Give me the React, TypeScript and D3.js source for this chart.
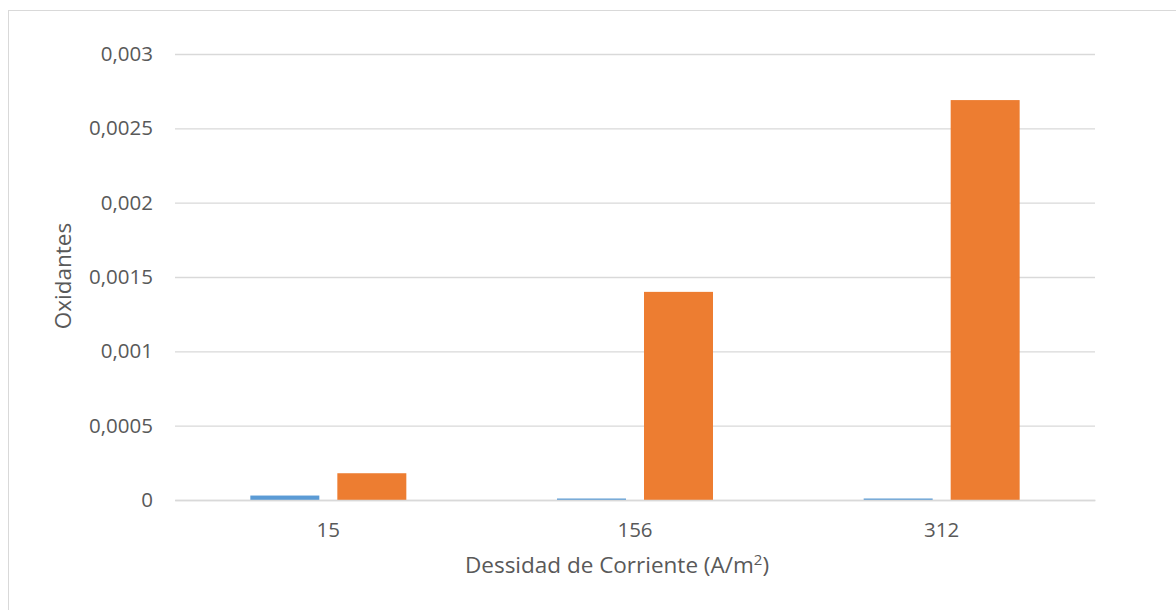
import React, { useEffect, useRef } from "react";
import * as d3 from "d3";

const categories = ["15", "156", "312"];
const seriesNames = ["Serie1", "Serie2"];
const serie1 = [0.00003, 0.00001, 0.00001];
const serie2 = [0.00018, 0.0014, 0.00269];
const yTicks = [0, 0.0005, 0.001, 0.0015, 0.002, 0.0025, 0.003];

const App = () => {
  const svgRef = useRef<SVGSVGElement>(null);

  useEffect(() => {
    const width = 1176;
    const height = 610;
    const left = 175;
    const right = 1095;
    const top = 54;
    const bottom = 500;
    const textColor = "#595959";
    const gridColor = "#D9D9D9";
    const colors = ["#5B9BD5", "#ED7D31"];
    const font = "'Open Sans', sans-serif";

    const svg = d3
      .select(svgRef.current)
      .attr("width", width)
      .attr("height", height)
      .attr("viewBox", `0 0 ${width} ${height}`)
      .style("font-family", font);

    svg.selectAll("*").remove();

    // chart frame
    svg
      .append("rect")
      .attr("x", 8.5)
      .attr("y", 10.5)
      .attr("width", width + 20)
      .attr("height", height + 20)
      .attr("fill", "#fff")
      .attr("stroke", gridColor);

    const x0 = d3.scaleBand().domain(categories).range([left, right]);
    const x1 = d3
      .scaleBand()
      .domain(seriesNames)
      .range([0, x0.bandwidth()])
      .paddingInner(0.207)
      .paddingOuter(0.866);
    const y = d3.scaleLinear().domain([0, 0.003]).range([bottom, top]);

    // gridlines + y labels
    const yAxis = d3
      .axisLeft(y)
      .tickValues(yTicks)
      .tickSize(-(right - left))
      .tickPadding(22)
      .tickFormat((d) => String(d).replace(".", ","));

    const gy = svg
      .append("g")
      .attr("transform", `translate(${left},0)`)
      .call(yAxis);
    gy.select(".domain").remove();
    gy.selectAll(".tick line").attr("stroke", gridColor).attr("stroke-width", 1.3);
    gy.selectAll(".tick text")
      .attr("fill", textColor)
      .style("font-size", "20.5px")
      .style("font-family", font);

    // bars
    const rows = categories.map((c, i) => ({ cat: c, values: [serie1[i], serie2[i]] }));
    const group = svg
      .append("g")
      .selectAll("g")
      .data(rows)
      .join("g")
      .attr("transform", (d) => `translate(${x0(d.cat)},0)`);

    group
      .selectAll("rect")
      .data((d) => d.values.map((v, j) => ({ key: seriesNames[j], v, j })))
      .join("rect")
      .attr("x", (d) => x1(d.key)!)
      .attr("width", x1.bandwidth())
      .attr("y", (d) => y(d.v))
      .attr("height", (d) => bottom - y(d.v))
      .attr("fill", (d) => colors[d.j]);

    // x axis
    const gx = svg
      .append("g")
      .attr("transform", `translate(0,${bottom})`)
      .call(d3.axisBottom(x0).tickSize(0).tickPadding(22));
    gx.select(".domain").attr("stroke", gridColor).attr("stroke-width", 1.5);
    gx.selectAll(".tick text")
      .attr("fill", textColor)
      .style("font-size", "20.5px")
      .style("font-family", font);

    // axis titles
    const xTitle = svg
      .append("text")
      .attr("x", 617)
      .attr("y", 573)
      .attr("text-anchor", "middle")
      .attr("fill", textColor)
      .style("font-size", "22.5px");
    xTitle.append("tspan").text("Dessidad de Corriente (A/m");
    xTitle.append("tspan").attr("dy", -8).style("font-size", "15px").text("2");
    xTitle.append("tspan").attr("dy", 8).text(")");

    svg
      .append("text")
      .attr("transform", `translate(71,276) rotate(-90)`)
      .attr("text-anchor", "middle")
      .attr("fill", textColor)
      .style("font-size", "22.5px")
      .text("Oxidantes");
  }, []);

  return (
    <div style={{ position: "absolute", left: 0, top: 0, background: "#fff" }}>
      <svg ref={svgRef}></svg>
    </div>
  );
};

export default App;
